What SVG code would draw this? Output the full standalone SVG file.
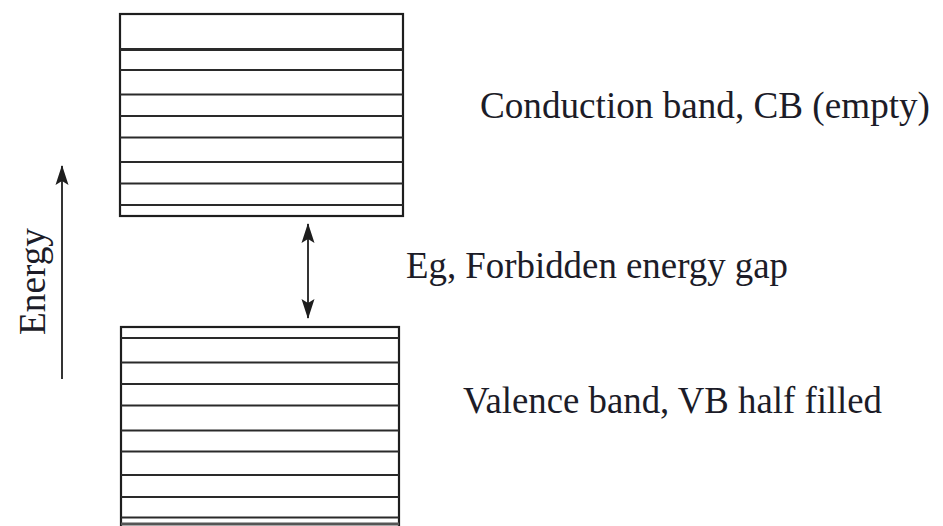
<svg xmlns="http://www.w3.org/2000/svg" width="943" height="526" viewBox="0 0 943 526">
  <style>
    .edge { fill: none; stroke: #1e1e1e; stroke-width: 2.2; }
    .level { stroke: #2a2a2a; stroke-width: 1.8; }
    .axis { stroke: #1e1e1e; stroke-width: 1.8; fill: none; }
    .label { font-family: "Liberation Serif", "Times New Roman", serif; font-size: 37px; fill: #1c1c28; }
  </style>
  <defs>
    <!-- arrowhead drawn along +x, tip at the line end -->
    <marker id="head" viewBox="0 0 20 14" refX="19" refY="7" markerWidth="20" markerHeight="14" markerUnits="userSpaceOnUse" orient="auto-start-reverse">
      <path d="M20,7 L0,0.5 L4,7 L0,13.5 Z" fill="#1e1e1e"/>
    </marker>
  </defs>

  <rect width="943" height="526" fill="#ffffff"/>

  <!-- Conduction band: stack of allowed levels -->
  <g id="conduction-band">
    <rect class="edge" x="120" y="14" width="283" height="202"/>
    <line class="level" x1="120" y1="49.5" x2="403" y2="49.5" style="stroke-width:3"/>
    <line class="level" x1="120" y1="70" x2="403" y2="70"/>
    <line class="level" x1="120" y1="94.5" x2="403" y2="94.5"/>
    <line class="level" x1="120" y1="116" x2="403" y2="116"/>
    <line class="level" x1="120" y1="137.5" x2="403" y2="137.5"/>
    <line class="level" x1="120" y1="162" x2="403" y2="162"/>
    <line class="level" x1="120" y1="183.5" x2="403" y2="183.5"/>
    <line class="level" x1="120" y1="205" x2="403" y2="205"/>
    <text class="label" x="480" y="118" textLength="450" lengthAdjust="spacingAndGlyphs">Conduction band, CB (empty)</text>
  </g>

  <!-- Valence band: stack of allowed levels -->
  <g id="valence-band">
    <rect class="edge" x="121" y="327" width="278" height="210"/>
    <line class="level" x1="121" y1="338" x2="399" y2="338"/>
    <line class="level" x1="121" y1="362.5" x2="399" y2="362.5"/>
    <line class="level" x1="121" y1="384" x2="399" y2="384"/>
    <line class="level" x1="121" y1="405.5" x2="399" y2="405.5"/>
    <line class="level" x1="121" y1="430.5" x2="399" y2="430.5"/>
    <line class="level" x1="121" y1="451.5" x2="399" y2="451.5"/>
    <line class="level" x1="121" y1="475" x2="399" y2="475"/>
    <line class="level" x1="121" y1="497" x2="399" y2="497"/>
    <line class="level" x1="121" y1="517.5" x2="399" y2="517.5"/>
    <line class="level" x1="121" y1="524" x2="399" y2="524" style="stroke-width:3;stroke:#555"/>
    <text class="label" x="463" y="413" textLength="419" lengthAdjust="spacingAndGlyphs">Valence band, VB half filled</text>
  </g>

  <!-- Energy gap label -->
  <g id="energy-gap">
    <text class="label" x="406" y="278" textLength="382" lengthAdjust="spacingAndGlyphs">Eg, Forbidden energy gap</text>
  </g>

  <!-- Energy axis label -->
  <g id="energy-axis">
    <text class="label" transform="translate(45,335) rotate(-90)" x="0" y="0" textLength="107" lengthAdjust="spacingAndGlyphs">Energy</text>
  </g>

  <!-- Connectors -->
  <g id="connectors">
    <line class="axis" x1="62" y1="379" x2="62" y2="166" marker-end="url(#head)"/>
    <line class="axis" x1="308" y1="224" x2="308" y2="318" marker-start="url(#head)" marker-end="url(#head)"/>
  </g>
</svg>
